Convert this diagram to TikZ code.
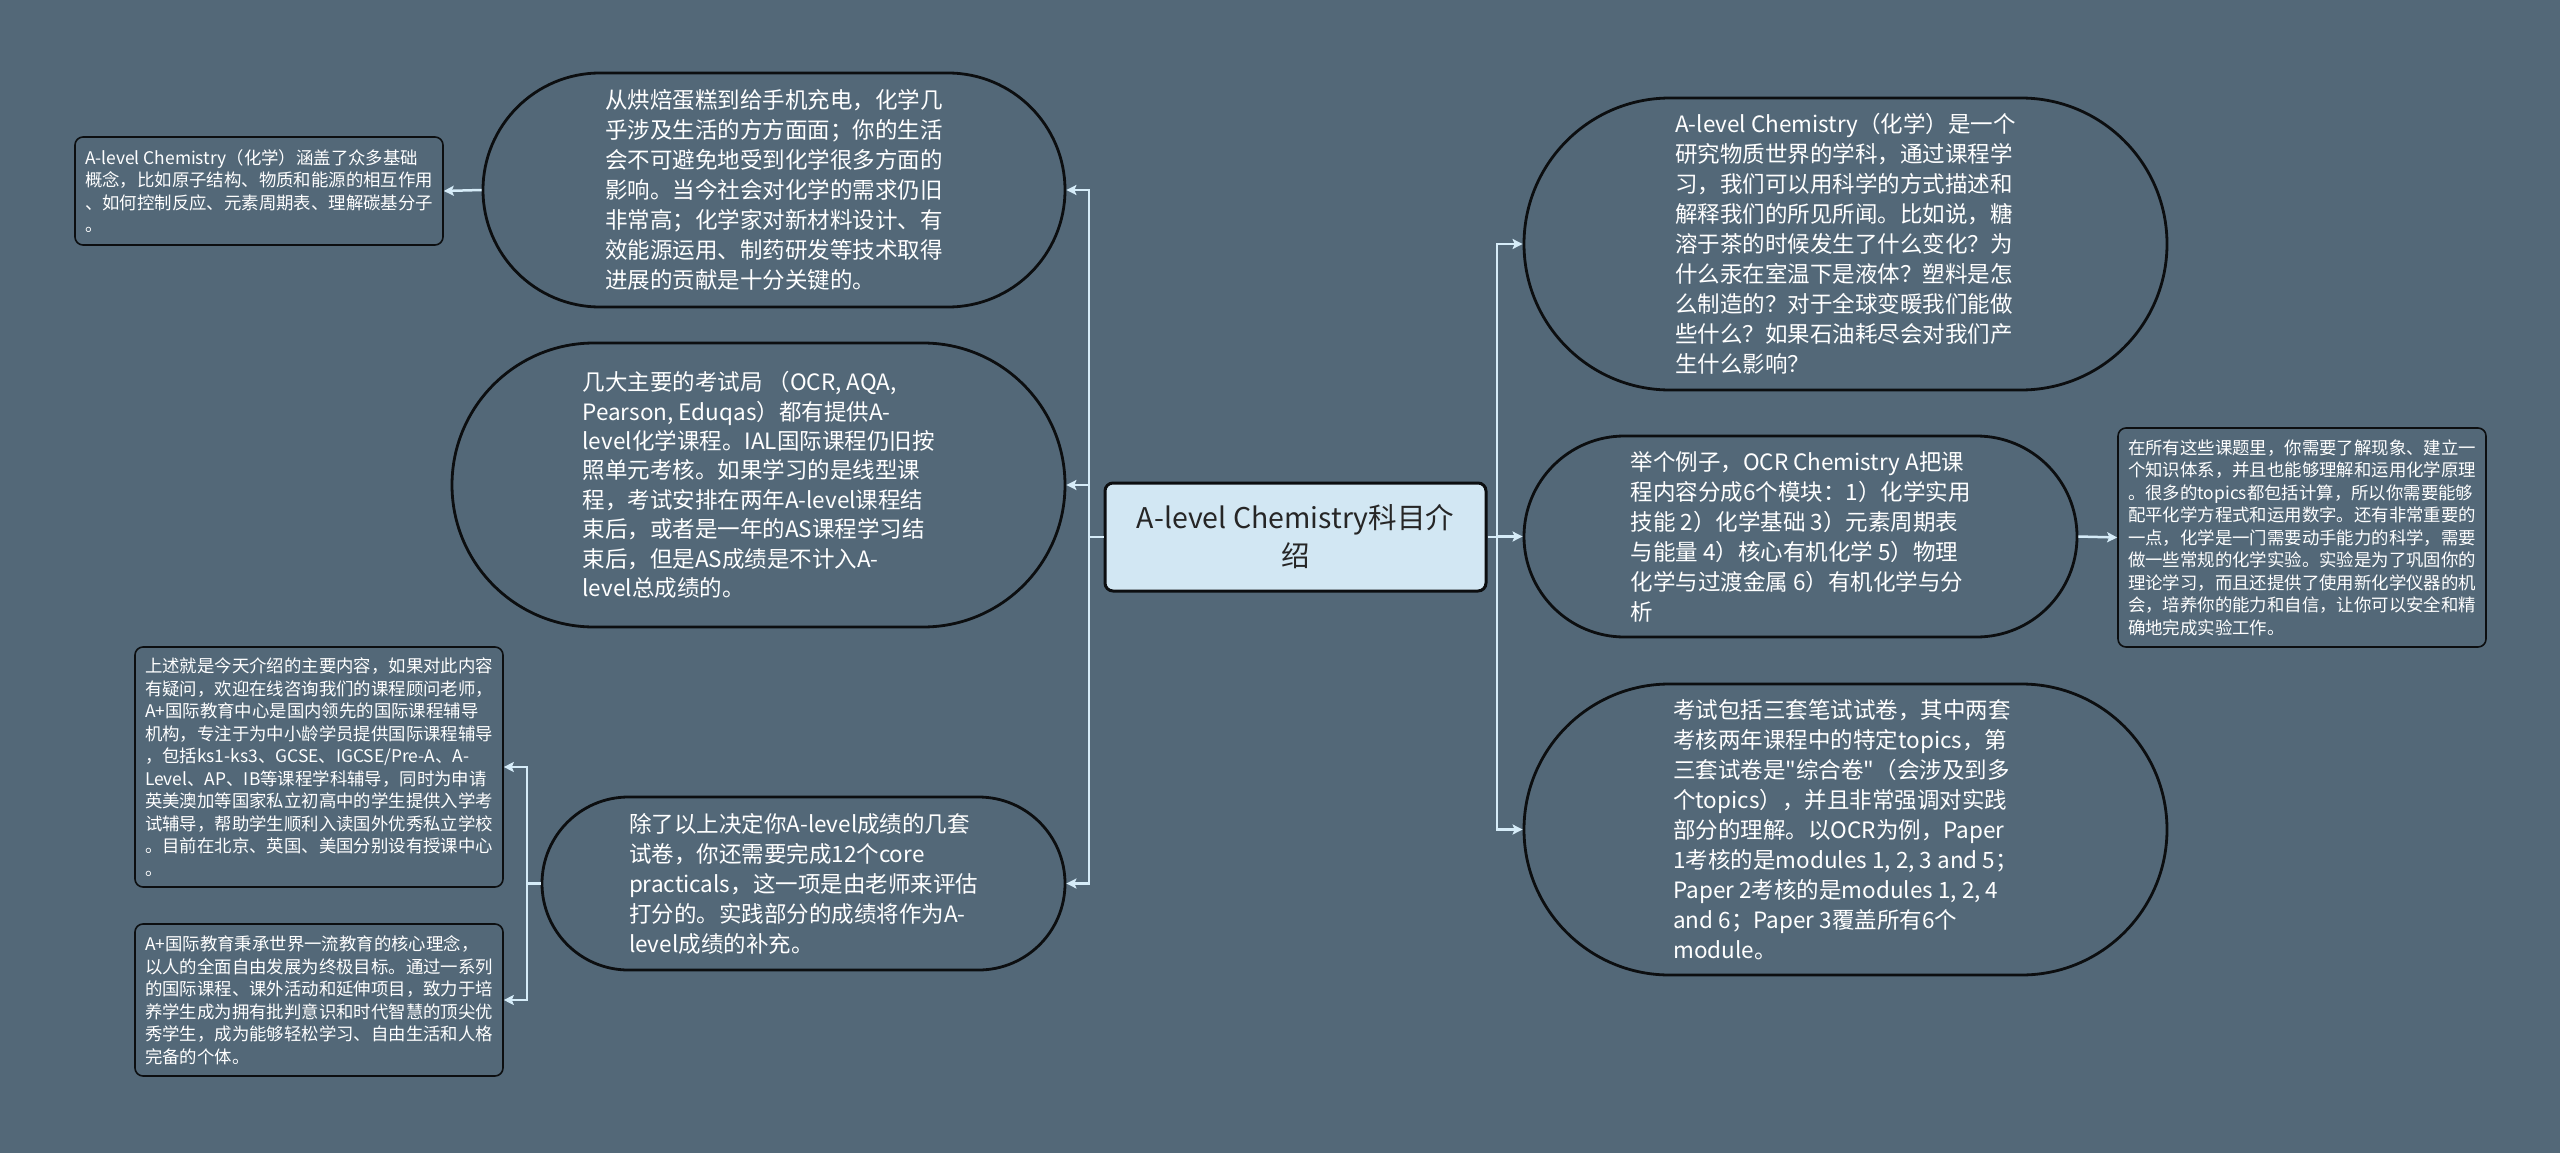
\documentclass[tikz,border=0pt]{standalone}
\usepackage{fontspec}
\setmainfont{Noto Sans CJK SC}[Ligatures=TeXOff]
\usetikzlibrary{arrows.meta}
\definecolor{bgc}{RGB}{83,104,120}
\definecolor{linec}{RGB}{214,236,248}
\definecolor{mainfill}{RGB}{210,231,243}
\definecolor{edgec}{RGB}{12,14,16}
\begin{document}
\begin{tikzpicture}[x=1pt,y=-1pt,
  pill/.style={draw=edgec, line width=2.8pt, text=white, align=left, inner sep=0pt,
    font={\fontsize{22.5pt}{30pt}\selectfont}},
  leaf/.style={draw=edgec, line width=1.6pt, rounded corners=8pt, text=white, align=left,
    inner sep=0pt, minimum width=368pt, font={\fontsize{17.4pt}{22.5pt}\selectfont}},
  mainbox/.style={draw=edgec, line width=3pt, rounded corners=8pt, fill=mainfill, text=black!85,
    align=center, inner sep=0pt, minimum width=381pt, minimum height=108pt,
    font={\fontsize{28.5pt}{38pt}\selectfont}},
  conn/.style={draw=linec, line width=2.5pt},
  arr/.style={conn, -{Stealth[length=10pt,width=10pt,inset=2pt]}}
]
\fill[bgc] (0,0) rectangle (2560,1153);
\useasboundingbox (0,0) rectangle (2560,1153);

% central
\node[mainbox] (c) at (1295.5,537) {A-level Chemistry科目介\\绍};

% left pills
\node[pill, minimum width=582pt, minimum height=234pt, rounded corners=117pt] (l1) at (774,190)
{从烘焙蛋糕到给手机充电，化学几\\
乎涉及生活的方方面面；你的生活\\
会不可避免地受到化学很多方面的\\
影响。当今社会对化学的需求仍旧\\
非常高；化学家对新材料设计、有\\
效能源运用、制药研发等技术取得\\
进展的贡献是十分关键的。};

\node[pill, minimum width=613pt, minimum height=284pt, rounded corners=142pt,
  font={\fontsize{22.5pt}{29.4pt}\selectfont}] (l2) at (758.5,485)
{几大主要的考试局 （OCR, AQA,\\
Pearson, Eduqas）都有提供A-\\
level化学课程。IAL国际课程仍旧按\\
照单元考核。如果学习的是线型课\\
程，考试安排在两年A-level课程结\\
束后，或者是一年的AS课程学习结\\
束后，但是AS成绩是不计入A-\\
level总成绩的。};

\node[pill, minimum width=523pt, minimum height=173pt, rounded corners=86.5pt] (l3) at (803.5,883.5)
{除了以上决定你A-level成绩的几套\\
试卷，你还需要完成12个core\\
practicals，这一项是由老师来评估\\
打分的。实践部分的成绩将作为A-\\
level成绩的补充。};

% right pills
\node[pill, minimum width=643pt, minimum height=292pt, rounded corners=146pt] (r1) at (1845.5,244)
{A-level Chemistry（化学）是一个\\
研究物质世界的学科，通过课程学\\
习，我们可以用科学的方式描述和\\
解释我们的所见所闻。比如说，糖\\
溶于茶的时候发生了什么变化？为\\
什么汞在室温下是液体？塑料是怎\\
么制造的？对于全球变暖我们能做\\
些什么？如果石油耗尽会对我们产\\
生什么影响？};

\node[pill, minimum width=553pt, minimum height=201pt, rounded corners=100.5pt] (r2) at (1800.5,536.5)
{举个例子，OCR Chemistry A把课\\
程内容分成6个模块：1）化学实用\\
技能 2）化学基础 3）元素周期表\\
与能量 4）核心有机化学 5）物理\\
化学与过渡金属 6）有机化学与分\\
析};

\node[pill, minimum width=643pt, minimum height=291pt, rounded corners=145.5pt] (r3) at (1845.5,829.5)
{考试包括三套笔试试卷，其中两套\\
考核两年课程中的特定topics，第\\
三套试卷是"综合卷"（会涉及到多\\
个topics），并且非常强调对实践\\
部分的理解。以OCR为例，Paper\\
1考核的是modules 1, 2, 3 and 5；\\
Paper 2考核的是modules 1, 2, 4\\
and 6；Paper 3覆盖所有6个\\
module。};

% leaves
\node[leaf, minimum height=108pt] (ll1) at (259,191)
{A-level Chemistry（化学）涵盖了众多基础\\
概念，比如原子结构、物质和能源的相互作用\\
、如何控制反应、元素周期表、理解碳基分子\\
。};

\node[leaf, minimum height=240pt] (ll2) at (319,767)
{上述就是今天介绍的主要内容，如果对此内容\\
有疑问，欢迎在线咨询我们的课程顾问老师，\\
A+国际教育中心是国内领先的国际课程辅导\\
机构，专注于为中小龄学员提供国际课程辅导\\
，包括ks1-ks3、GCSE、IGCSE/Pre-A、A-\\
Level、AP、IB等课程学科辅导，同时为申请\\
英美澳加等国家私立初高中的学生提供入学考\\
试辅导，帮助学生顺利入读国外优秀私立学校\\
。目前在北京、英国、美国分别设有授课中心\\
。};

\node[leaf, minimum height=152pt] (ll3) at (319,1000)
{A+国际教育秉承世界一流教育的核心理念，\\
以人的全面自由发展为终极目标。通过一系列\\
的国际课程、课外活动和延伸项目，致力于培\\
养学生成为拥有批判意识和时代智慧的顶尖优\\
秀学生，成为能够轻松学习、自由生活和人格\\
完备的个体。};

\node[leaf, minimum height=219pt] (r2a) at (2302,537.5)
{在所有这些课题里，你需要了解现象、建立一\\
个知识体系，并且也能够理解和运用化学原理\\
。很多的topics都包括计算，所以你需要能够\\
配平化学方程式和运用数字。还有非常重要的\\
一点，化学是一门需要动手能力的科学，需要\\
做一些常规的化学实验。实验是为了巩固你的\\
理论学习，而且还提供了使用新化学仪器的机\\
会，培养你的能力和自信，让你可以安全和精\\
确地完成实验工作。};

% junctions
\coordinate (jl) at (1089,537);
\coordinate (jr) at (1497,537);
\coordinate (jb) at (527,883.5);

% connectors
\draw[conn] (c.west) -- (jl);
\draw[arr] (jl) |- (l1.east);
\draw[arr] (jl) |- (l2.east);
\draw[arr] (jl) |- (l3.east);

\draw[conn] (c.east) -- (jr);
\draw[arr] (jr) |- (r1.west);
\draw[arr] (jr) |- (r2.west);
\draw[arr] (jr) |- (r3.west);

\draw[arr] (r2.east) -- (r2a.west);
\draw[arr] (l1.west) -- (ll1.east);

\draw[conn] (l3.west) -- (jb);
\draw[arr] (jb) |- (ll2.east);
\draw[arr] (jb) |- (ll3.east);
\end{tikzpicture}
\end{document}
